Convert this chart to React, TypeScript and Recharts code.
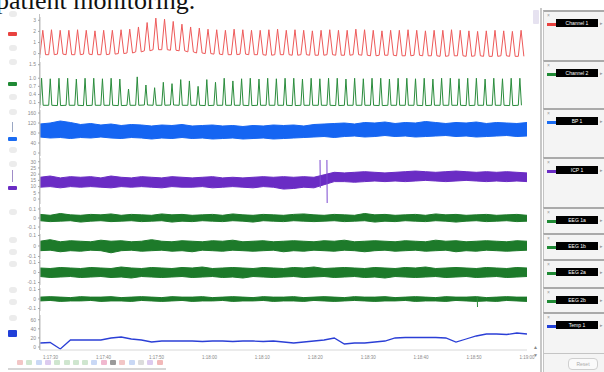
import React from 'react';
import { ComposedChart, Line, Area, XAxis, YAxis } from 'recharts';

const SPAN = 92;

// channel 1 (red pulse): per-beat peaks / troughs
const redPeaks = [
  2.1, 2.15, 2.1, 2.1, 2.15, 2.1, 2.05, 2.1,
  2.1, 2.15, 2.2, 2.4, 2.8, 3.2, 3.1, 2.9,
  2.65, 2.4, 2.3, 2.2, 2.15, 2.1, 2.2, 2.15,
  2.1, 2.1, 2.15, 2.2, 2.1, 2.15, 2.1, 2.05,
  2.1, 2.15, 2.1, 2.1, 2.2, 2.15, 2.1, 2.05,
  2.1, 2.1, 2.15, 2.1, 2.05, 2.1, 2.1, 2.15,
  2.1, 2.05, 2.0, 2.05, 2.1, 2.05, 2.0, 2.1,
];
const redTroughs = [
  -0.1, -0.1, -0.05, -0.1, -0.1, -0.05, -0.1, -0.1,
  -0.05, 0, 0.05, 0.15, 0.25, 0.35, 0.35, 0.3,
  0.25, 0.15, 0.05, 0, -0.05, -0.1, -0.1, -0.05,
  -0.1, -0.1, -0.15, -0.1, -0.1, -0.15, -0.1, -0.15,
  -0.15, -0.1, -0.15, -0.15, -0.1, -0.15, -0.2, -0.15,
  -0.15, -0.2, -0.2, -0.15, -0.2, -0.2, -0.25, -0.2,
  -0.2, -0.25, -0.2, -0.25, -0.25, -0.2, -0.25, -0.25,
];

// channel 2 (green pulse)
const greenPeaks = [
  1.0, 0.98, 1.0, 1.0, 0.97, 1.0, 1.0, 0.98,
  1.0, 0.97, 0.6, 1.05, 0.75, 0.65, 0.85, 0.8,
  0.95, 0.9, 0.7, 0.95, 0.85, 1.0, 0.9, 0.98,
  1.0, 0.97, 1.0, 0.98, 1.0, 1.0, 0.97, 1.0,
  0.98, 1.0, 1.0, 0.97, 1.0, 0.98, 1.0, 1.0,
  0.97, 1.0, 1.0, 0.98, 1.0, 0.97, 1.0, 1.0,
  0.98, 1.0, 1.0, 0.97, 1.0, 0.98, 1.0, 1.0,
];
const greenBase = [
  0, 0, -0.01, 0, 0, -0.01, 0, 0,
  0, -0.01, 0, 0, 0.01, 0, 0, 0.01,
  0, 0, 0, -0.01, 0, 0, 0, 0,
  -0.01, 0, 0, 0, 0, -0.01, 0, 0,
  0, 0, -0.01, 0, 0, 0, 0, -0.01,
  0, 0, 0, 0, -0.01, 0, 0, 0,
  0, -0.01, 0, 0, 0, 0, -0.01, 0,
];

// BP 1 envelope
const bpHigh = [
  116, 120, 128, 122, 114, 118, 112,
  116, 110, 114, 112, 108, 112, 110,
  114, 108, 110, 112, 108, 110, 106,
  110, 108, 112, 110, 112, 108, 114,
  116, 118, 120, 116, 122, 120, 124,
  118, 122, 120, 126, 122, 118, 122,
  120, 124, 118, 122, 120, 118, 122,
];
const bpLow = [
  64, 60, 62, 58, 62, 60, 64,
  60, 58, 62, 60, 56, 60, 58,
  62, 58, 60, 56, 58, 60, 56,
  58, 60, 56, 58, 60, 62, 64,
  66, 62, 66, 68, 64, 66, 70,
  66, 68, 64, 66, 68, 70, 66,
  68, 64, 66, 68, 70, 66, 68,
];

// ICP 1 envelope + two artefact spikes
const icpHigh = [
  17.5, 18.5, 17, 18, 17.5, 18, 17,
  18.5, 17.5, 17, 18, 17.5, 17, 18,
  17.5, 17, 17.5, 18, 17, 17.5, 17,
  17.5, 18, 17.5, 18, 17.5, 18, 17.5,
  19.5, 21.5, 21, 21.5, 22, 21.5, 21,
  21.5, 22, 22.5, 22, 21.5, 22, 22.5,
  22, 21.5, 22, 21.5, 22, 21.5, 21,
];
const icpLow = [
  9.5, 10, 9, 10, 9.5, 10, 9.5,
  9, 10, 9.5, 10, 9.5, 9, 10,
  9.5, 9.5, 10, 9, 9.5, 10, 9.5,
  9, 10, 9.5, 8, 8.5, 9.5, 9,
  11.5, 14, 14, 13.5, 14, 14.5, 14,
  14.5, 14, 14.5, 15, 14.5, 14, 14.5,
  15, 14.5, 14, 14.5, 14, 14.5, 14,
];
const icpSpikeTimes = [52.9, 54.2];
const icpSpikeTop = [31.4, 31.4];
const icpSpikeBottom = [9, -3.2];

// EEG-like channels (envelopes)
const eeg1High = [
  0.04, 0.03, 0.05, 0.035, 0.03, 0.04, 0.035,
  0.045, 0.03, 0.04, 0.035, 0.03, 0.045, 0.035,
  0.04, 0.03, 0.035, 0.04, 0.03, 0.045, 0.035,
  0.03, 0.04, 0.035, 0.03, 0.04, 0.045, 0.035,
  0.03, 0.04, 0.035, 0.03, 0.05, 0.035, 0.04,
  0.03, 0.035, 0.04, 0.03, 0.045, 0.035, 0.04,
  0.03, 0.035, 0.04, 0.03, 0.035, 0.04, 0.03,
];
const eeg1Low = [
  -0.03, -0.04, -0.035, -0.03, -0.045, -0.035, -0.03,
  -0.04, -0.035, -0.03, -0.04, -0.035, -0.03, -0.045,
  -0.035, -0.04, -0.03, -0.035, -0.04, -0.03, -0.035,
  -0.045, -0.03, -0.035, -0.04, -0.03, -0.035, -0.04,
  -0.035, -0.03, -0.04, -0.035, -0.03, -0.045, -0.035,
  -0.04, -0.03, -0.035, -0.04, -0.03, -0.035, -0.045,
  -0.035, -0.03, -0.04, -0.035, -0.03, -0.04, -0.035,
];
const eeg2High = [
  0.045, 0.06, 0.04, 0.05, 0.045, 0.04, 0.055,
  0.045, 0.05, 0.04, 0.045, 0.06, 0.045, 0.04,
  0.05, 0.045, 0.04, 0.05, 0.045, 0.055, 0.04,
  0.045, 0.05, 0.04, 0.045, 0.05, 0.045, 0.04,
  0.05, 0.045, 0.055, 0.04, 0.045, 0.05, 0.045,
  0.04, 0.05, 0.045, 0.04, 0.055, 0.045, 0.05,
  0.04, 0.045, 0.05, 0.045, 0.04, 0.05, 0.045,
];
const eeg2Low = [
  -0.045, -0.04, -0.055, -0.045, -0.05, -0.04, -0.045,
  -0.065, -0.045, -0.04, -0.05, -0.045, -0.04, -0.05,
  -0.045, -0.055, -0.04, -0.045, -0.05, -0.04, -0.045,
  -0.05, -0.045, -0.04, -0.055, -0.045, -0.05, -0.04,
  -0.045, -0.05, -0.04, -0.045, -0.055, -0.045, -0.04,
  -0.05, -0.045, -0.04, -0.05, -0.045, -0.04, -0.055,
  -0.045, -0.05, -0.04, -0.045, -0.05, -0.045, -0.04,
];
const eeg3High = [
  0.045, 0.04, 0.05, 0.045, 0.04, 0.05, 0.045,
  0.04, 0.055, 0.045, 0.04, 0.05, 0.045, 0.04,
  0.05, 0.045, 0.055, 0.04, 0.045, 0.05, 0.045,
  0.04, 0.05, 0.045, 0.04, 0.05, 0.045, 0.055,
  0.04, 0.045, 0.05, 0.045, 0.04, 0.05, 0.045,
  0.04, 0.05, 0.045, 0.055, 0.04, 0.045, 0.05,
  0.045, 0.04, 0.05, 0.045, 0.04, 0.05, 0.045,
];
const eeg3Low = [
  -0.04, -0.05, -0.045, -0.04, -0.05, -0.045, -0.04,
  -0.05, -0.045, -0.055, -0.04, -0.045, -0.05, -0.045,
  -0.04, -0.05, -0.045, -0.04, -0.05, -0.045, -0.055,
  -0.04, -0.045, -0.05, -0.045, -0.04, -0.05, -0.045,
  -0.04, -0.05, -0.045, -0.04, -0.05, -0.045, -0.055,
  -0.04, -0.045, -0.05, -0.045, -0.04, -0.05, -0.045,
  -0.04, -0.05, -0.045, -0.04, -0.05, -0.045, -0.04,
];
const eeg4High = [
  0.02, 0.025, 0.02, 0.015, 0.025, 0.02, 0.02,
  0.025, 0.015, 0.02, 0.025, 0.02, 0.015, 0.025,
  0.02, 0.02, 0.025, 0.015, 0.02, 0.025, 0.02,
  0.015, 0.025, 0.02, 0.02, 0.025, 0.015, 0.02,
  0.025, 0.02, 0.015, 0.025, 0.02, 0.02, 0.025,
  0.015, 0.02, 0.025, 0.02, 0.015, 0.025, 0.02,
  0.02, 0.025, 0.015, 0.02, 0.025, 0.02, 0.02,
];
const eeg4Low = [
  -0.02, -0.015, -0.025, -0.02, -0.02, -0.015, -0.025,
  -0.02, -0.02, -0.025, -0.015, -0.02, -0.025, -0.02,
  -0.015, -0.025, -0.02, -0.02, -0.015, -0.025, -0.02,
  -0.02, -0.015, -0.025, -0.02, -0.02, -0.025, -0.015,
  -0.02, -0.025, -0.02, -0.015, -0.02, -0.025, -0.02,
  -0.02, -0.015, -0.025, -0.02, -0.02, -0.025, -0.015,
  -0.02, -0.025, -0.02, -0.025, -0.015, -0.02, -0.025,
];
const eeg4SpikeTimes = [82.6];
const eeg4SpikeTop = [0.02];
const eeg4SpikeBottom = [-0.084];

// temperature-like slow channel
const tempValues = [
  8.8, 9.9, -4.4, 15.4, 15.4, 15.4, 15.4,
  19.8, 22, 17.6, 15.4, 11, 13.2, 13.2,
  13.2, 13.2, 12.1, 13.2, 13.2, 12.1, 13.2,
  13.2, 12.1, 13.2, 11, 8.8, 11, 13.2,
  15.4, 19.8, 6.6, 8.8, 8.8, 11, 13.2,
  19.8, 20.9, 20.9, 20.9, 20.9, 19.8, 11,
  17.6, 24.2, 28.6, 28.6, 27.5, 30.8, 28.6,
];

const timeTicks = [2, 12, 22, 32, 42, 52, 62, 72, 82, 92];
const timeLabels = ['1:17:30', '1:17:40', '1:17:50', '1:18:00', '1:18:10', '1:18:20', '1:18:30', '1:18:40', '1:18:50', '1:19:00'];

const channelNames = ['Channel 1', 'Channel 2', 'BP 1', 'ICP 1', 'EEG 1a', 'EEG 1b', 'EEG 2a', 'EEG 2b', 'Temp 1'];

function pulseRows(peaks: number[], lows: number[], up: number, down: number) {
  const dt = SPAN / peaks.length;
  const rows: { t: number; v: number }[] = [];
  peaks.forEach((p, i) => {
    const t0 = i * dt;
    rows.push({ t: t0, v: lows[i] });
    rows.push({ t: t0 + up * dt, v: p });
    rows.push({ t: t0 + down * dt, v: lows[i] });
  });
  return rows;
}

function bandRows(high: number[], low: number[]) {
  const step = SPAN / (high.length - 1);
  return high.map((h, i) => ({ t: i * step, r: [low[i], h] }));
}

function spikeRows(times: number[], tops: number[], bottoms: number[]) {
  const rows: { t: number; v: number | null }[] = [];
  times.forEach((t, i) => {
    rows.push({ t, v: tops[i] });
    rows.push({ t: t + 0.05, v: bottoms[i] });
    rows.push({ t: t + 0.3, v: null });
  });
  return rows;
}

const tempRows = tempValues.map((v, i) => ({ t: (i * SPAN) / (tempValues.length - 1), v }));

const fmt1 = (v: number) => (v === 0 ? '0' : v.toFixed(1));

type StripProps = {
  top: number;
  height: number;
  data: any[];
  domain: [number, number];
  ticks: number[];
  fmt?: (v: number) => string;
  time?: boolean;
  children: React.ReactNode;
};

const PAD = 5;

function Strip({ top, height, data, domain, ticks, fmt, time, children }: StripProps) {
  const h = height + (time ? 14 : 0) + PAD * 2;
  return (
    <div style={{ position: 'absolute', left: 0, top: top - PAD, width: 545, height: h }}>
      <ComposedChart width={545} height={h} data={data} margin={{ top: PAD, right: 18, bottom: PAD, left: 0 }}>
        <XAxis
          type="number"
          dataKey="t"
          domain={[0, SPAN]}
          allowDataOverflow
          hide={!time}
          ticks={timeTicks}
          interval={0}
          height={14}
          tickFormatter={(v: number) => timeLabels[timeTicks.indexOf(v)] ?? ''}
          tick={{ fontSize: 4.5, fill: '#8a8a8a' }}
          tickLine={false}
          tickSize={4}
          axisLine={{ stroke: '#d8d8d8' }}
        />
        <YAxis
          type="number"
          domain={domain}
          allowDataOverflow
          ticks={ticks}
          interval={0}
          width={40}
          tickFormatter={fmt}
          tick={{ fontSize: 5, fill: '#8a8a8a' }}
          tickSize={2}
          tickLine={{ stroke: '#a8a8a8' }}
          axisLine={{ stroke: '#bdbdbd' }}
        />
        {children}
      </ComposedChart>
    </div>
  );
}

export default function App() {
  const boxes = [
    { top: 10, h: 50, color: '#e8423f' },
    { top: 60, h: 48, color: '#1f8a35' },
    { top: 108, h: 49, color: '#1b6cf2' },
    { top: 157, h: 50, color: '#6a2cc4' },
    { top: 207, h: 26, color: '#1f8a35' },
    { top: 233, h: 26, color: '#1f8a35' },
    { top: 259, h: 28, color: '#1f8a35' },
    { top: 287, h: 25, color: '#1f8a35' },
    { top: 312, h: 41, color: '#2140d8' },
  ];
  const sideIcons = [14, 48, 62, 97, 112, 150, 164, 212, 240, 252, 264, 290, 302, 318];
  const sideMarks = [
    { y: 32, c: '#e8423f' },
    { y: 82, c: '#1f8a35' },
    { y: 137, c: '#1b6cf2' },
    { y: 186, c: '#6a2cc4' },
    { y: 330, c: '#2140d8' },
  ];
  const rowColors = ['#f2c6c6', '#cfe6cf', '#c9d8f5', '#dccbef', '#cfe6cf', '#cfe6cf', '#cfe6cf', '#cfe6cf', '#c9d8f5', '#f0b8cf', '#9a9a9a', '#f2c6c6', '#c9d8f5', '#dcdcdc', '#dccbef', '#f2b8b8'];

  return (
    <div style={{ position: 'absolute', left: 0, top: 0, width: 604, height: 372, overflow: 'hidden', background: '#fff', fontFamily: 'Arial, "Liberation Sans", sans-serif' }}>
      <div style={{ position: 'absolute', left: -4, top: -12, fontFamily: '"Liberation Serif", "Times New Roman", serif', fontSize: 26, lineHeight: '26px', color: '#111', whiteSpace: 'nowrap' }}>
        patient monitoring.
      </div>

      {/* left tool column */}
      {sideIcons.map((y) => (
        <div key={y} style={{ position: 'absolute', left: 9, top: y - 3, width: 8, height: 6, borderRadius: 3, background: '#ececec' }} />
      ))}
      {sideMarks.map((m) => (
        <div key={m.y} style={{ position: 'absolute', left: 8, top: m.y, width: 9, height: m.y > 300 ? 7 : 4, borderRadius: 1, background: m.c }} />
      ))}
      <div style={{ position: 'absolute', left: 12, top: 122, width: 1, height: 10, background: '#9aa7c4' }} />
      <div style={{ position: 'absolute', left: 12, top: 170, width: 1, height: 12, background: '#a08cc8' }} />

      {/* continuous value-axis spine */}
      <div style={{ position: 'absolute', left: 39, top: 14, width: 1, height: 336, background: '#c4c4c4' }} />

      <Strip top={17} height={41} data={pulseRows(redPeaks, redTroughs, 0.32, 0.64)} domain={[-0.4, 3.3]} ticks={[0, 1, 2, 3]}>
        <Line dataKey="v" type="linear" dot={false} stroke="#ee5a5a" strokeWidth={1} isAnimationActive={false} />
      </Strip>
      <Strip top={62} height={46} data={pulseRows(greenPeaks, greenBase, 0.18, 0.36)} domain={[-0.1, 1.6]} ticks={[0.1, 0.4, 0.7, 1.0, 1.5]} fmt={fmt1}>
        <Line dataKey="v" type="linear" dot={false} stroke="#2a8c3c" strokeWidth={1} isAnimationActive={false} />
      </Strip>
      <Strip top={110} height={46} data={bandRows(bpHigh, bpLow)} domain={[-12, 172]} ticks={[0, 40, 80, 120, 160]}>
        <Area dataKey="r" type="linear" stroke="#1565f2" strokeWidth={1} fill="#1565f2" fillOpacity={1} isAnimationActive={false} />
      </Strip>
      <Strip top={158} height={46} data={bandRows(icpHigh, icpLow)} domain={[-4, 33]} ticks={[0, 5, 10, 15, 20, 25, 30]}>
        <Area dataKey="r" type="linear" stroke="#6a2cc4" strokeWidth={1} fill="#6a2cc4" fillOpacity={1} isAnimationActive={false} />
        <Line data={spikeRows(icpSpikeTimes, icpSpikeTop, icpSpikeBottom)} dataKey="v" type="linear" dot={false} stroke="#7b48d0" strokeWidth={1} isAnimationActive={false} />
      </Strip>
      <Strip top={207} height={23} data={bandRows(eeg1High, eeg1Low)} domain={[-0.133, 0.122]} ticks={[-0.1, 0, 0.1]} fmt={fmt1}>
        <Area dataKey="r" type="linear" stroke="#1d7a2a" strokeWidth={1} fill="#1d7a2a" fillOpacity={1} isAnimationActive={false} />
      </Strip>
      <Strip top={234} height={25} data={bandRows(eeg2High, eeg2Low)} domain={[-0.124, 0.114]} ticks={[-0.1, 0, 0.1]} fmt={fmt1}>
        <Area dataKey="r" type="linear" stroke="#1d7a2a" strokeWidth={1} fill="#1d7a2a" fillOpacity={1} isAnimationActive={false} />
      </Strip>
      <Strip top={260} height={25} data={bandRows(eeg3High, eeg3Low)} domain={[-0.125, 0.125]} ticks={[-0.1, 0, 0.1]} fmt={fmt1}>
        <Area dataKey="r" type="linear" stroke="#1d7a2a" strokeWidth={1} fill="#1d7a2a" fillOpacity={1} isAnimationActive={false} />
      </Strip>
      <Strip top={288} height={23} data={bandRows(eeg4High, eeg4Low)} domain={[-0.126, 0.116]} ticks={[-0.1, 0, 0.1]} fmt={fmt1}>
        <Area dataKey="r" type="linear" stroke="#1d7a2a" strokeWidth={1} fill="#1d7a2a" fillOpacity={1} isAnimationActive={false} />
        <Line data={spikeRows(eeg4SpikeTimes, eeg4SpikeTop, eeg4SpikeBottom)} dataKey="v" type="linear" dot={false} stroke="#2a8a38" strokeWidth={1} isAnimationActive={false} />
      </Strip>
      <Strip top={315} height={35} data={tempRows} domain={[-6.6, 70.4]} ticks={[0, 20, 40, 60]} time>
        <Line dataKey="v" type="linear" dot={false} stroke="#2b3fd6" strokeWidth={1.3} isAnimationActive={false} />
      </Strip>

      {/* bottom toolbar */}
      {rowColors.map((c, i) => (
        <div key={i} style={{ position: 'absolute', left: 17 + i * 9.3, top: 360, width: 6, height: 5, borderRadius: 1, background: c }} />
      ))}
      <div style={{ position: 'absolute', left: 8, top: 368, width: 158, height: 2, background: '#d6d6d6' }} />

      {/* right channel panel */}
      <div style={{ position: 'absolute', left: 540, top: 8, width: 2, height: 364, background: '#c8c8c8' }} />
      <div style={{ position: 'absolute', left: 533, top: 10, width: 6, height: 14, background: '#e6e2f0', borderRadius: 1 }} />
      <div style={{ position: 'absolute', left: 533, top: 343, width: 5, height: 16, color: '#888', fontSize: 5, lineHeight: '8px' }}>▲<br />▼</div>
      {boxes.map((b, i) => (
        <div key={i} style={{ position: 'absolute', left: 543, top: b.top, width: 61, height: b.h, background: '#f4f4f4', borderTop: '2px solid #aaaaaa', borderLeft: '1px solid #c4c4c4', boxSizing: 'border-box' }}>
          <div style={{ position: 'absolute', left: 3, top: 1, fontSize: 5, color: '#999', lineHeight: '5px' }}>×</div>
          <div style={{ position: 'absolute', left: 3, top: 11, width: 10, height: 3, background: b.color }} />
          <div style={{ position: 'absolute', left: 12, top: 7, width: 42, height: 8, background: '#000', color: '#fff', fontSize: 5, lineHeight: '8px', textAlign: 'center', whiteSpace: 'nowrap' }}>
            {channelNames[i]}
          </div>
          <div style={{ position: 'absolute', left: 56, top: 8, fontSize: 5, color: '#999', lineHeight: '6px' }}>▸</div>
        </div>
      ))}
      <div style={{ position: 'absolute', left: 543, top: 353, width: 61, height: 19, background: '#f4f4f4', borderTop: '1px solid #c4c4c4', borderLeft: '1px solid #c4c4c4', boxSizing: 'border-box' }}>
        <div style={{ position: 'absolute', left: 24, top: 4, width: 28, height: 10, border: '1px solid #cfcfcf', borderRadius: 4, fontSize: 5, color: '#aaa', lineHeight: '10px', textAlign: 'center', background: '#fafafa' }}>Reset</div>
      </div>
    </div>
  );
}
